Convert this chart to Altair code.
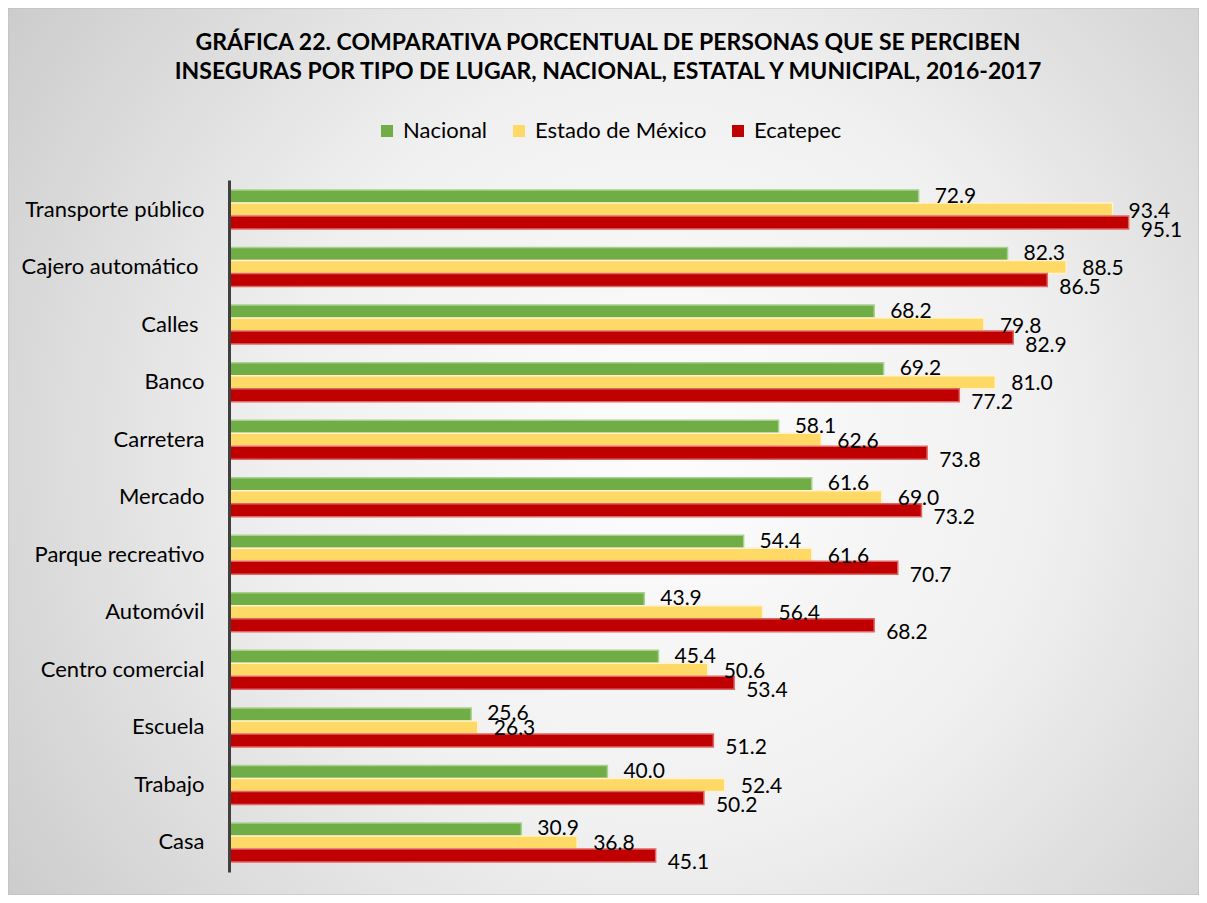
import altair as alt
import pandas as pd

categories = ["Transporte público", "Cajero automático", "Calles", "Banco", "Carretera",
              "Mercado", "Parque recreativo", "Automóvil", "Centro comercial", "Escuela",
              "Trabajo", "Casa"]
series = ["Nacional", "Estado de México", "Ecatepec"]
nacional = [72.9, 82.3, 68.2, 69.2, 58.1, 61.6, 54.4, 43.9, 45.4, 25.6, 40.0, 30.9]
estado = [93.4, 88.5, 79.8, 81.0, 62.6, 69.0, 61.6, 56.4, 50.6, 26.3, 52.4, 36.8]
ecatepec = [95.1, 86.5, 82.9, 77.2, 73.8, 73.2, 70.7, 68.2, 53.4, 51.2, 50.2, 45.1]
colors = ["#70AD47", "#FFD966", "#C00000"]
strokes = ["#A9D18E", "#FFF2CC", "#E06666"]

rows = []
for s, vals in zip(series, [nacional, estado, ecatepec]):
    for c, v in zip(categories, vals):
        rows.append({"lugar": c, "serie": s, "valor": v})
df = pd.DataFrame(rows)

W, H = 946, 692
PL, PT, PR, PB = 221, 172, 24, 23
FONT = "Lato"

y_enc = alt.Y("lugar:N", sort=categories,
              scale=alt.Scale(paddingInner=0.322, paddingOuter=0.174),
              axis=alt.Axis(title=None, ticks=False, domainColor="#404040", domainWidth=3,
                            labelPadding={"condition": {"test": "datum.value == 'Calles' || datum.value == 'Cajero automático'",
                                                        "value": 31},
                                          "value": 25},
                            labelFontSize=22, labelColor="#000000",
                            labelFont=FONT, labelLimit=400, zindex=2))
yoff = alt.YOffset("serie:N", sort=series)
x_enc = alt.X("valor:Q", scale=alt.Scale(domain=[0, 100]), axis=None)

bg = alt.Chart(alt.Data(values=[{}])).mark_rect(
    fill=alt.Gradient(gradient="radial",
                      stops=[alt.GradientStop(color="#fdfdfd", offset=0),
                             alt.GradientStop(color="#f0f0f0", offset=0.45),
                             alt.GradientStop(color="#c6c6c6", offset=1)],
                      x1=0.55, y1=0.5, r1=0, x2=0.55, y2=0.5, r2=0.72),
    stroke="#bdbdbd", strokeWidth=1
).encode(x=alt.value(-PL), x2=alt.value(W + PR), y=alt.value(-PT), y2=alt.value(H + PB))

bars = alt.Chart(df).mark_bar(strokeWidth=1.5).encode(
    y=y_enc, yOffset=yoff, x=x_enc,
    color=alt.Color("serie:N", sort=series,
                    scale=alt.Scale(domain=series, range=colors),
                    legend=alt.Legend(title=None, orient="none", legendX=147, legendY=-60,
                                      direction="horizontal", symbolType="square",
                                      symbolSize=144, symbolStrokeWidth=0,
                                      labelFontSize=22, labelFont=FONT, labelColor="#000000",
                                      labelLimit=400, labelOffset=5, columnPadding=20,
                                      zindex=2)),
    stroke=alt.Stroke("serie:N", scale=alt.Scale(domain=series, range=strokes), legend=None),
)

texts = []
for s, dx, dy in zip(series, [16, 16, 12], [0, 2, 8]):
    t = alt.Chart(df).transform_filter(alt.datum.serie == s).mark_text(
        align="left", baseline="middle", dx=dx, dy=dy, fontSize=21, font=FONT, color="#000000"
    ).encode(y=y_enc, yOffset=yoff, x=x_enc, text=alt.Text("valor:Q", format=".1f"))
    texts.append(t)

chart = alt.layer(bg, bars, *texts).properties(
    width=W, height=H,
    title=alt.Title(["GRÁFICA 22. COMPARATIVA PORCENTUAL DE PERSONAS QUE SE PERCIBEN",
                     "INSEGURAS POR TIPO DE LUGAR, NACIONAL, ESTATAL Y MUNICIPAL, 2016-2017"],
                    font=FONT, fontSize=23, fontWeight="bold", color="#000000",
                    anchor="middle", dx=-94, dy=76, lineHeight=29, offset=0, zindex=2),
    autosize=alt.AutoSizeParams(type="none"),
    padding={"left": PL, "top": PT, "right": PR, "bottom": PB},
    background="#d8d8d8",
).configure_view(stroke=None)

chart.save("out.html", embed_options={"renderer": "svg", "actions": False})
